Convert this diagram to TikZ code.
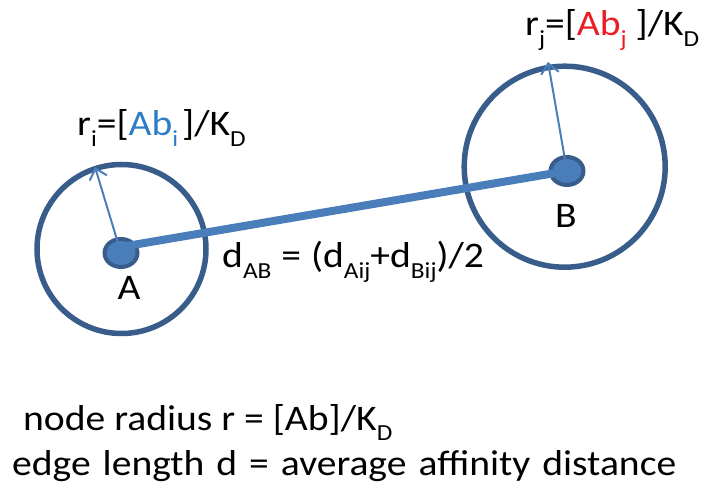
\documentclass[tikz,border=0pt]{standalone}
\usepackage{fontspec}
\setmainfont{Carlito}[FakeStretch=1.1]
\usetikzlibrary{arrows.meta,shapes.geometric}
\definecolor{ringblue}{RGB}{56,93,138}
\definecolor{fillblue}{RGB}{74,126,187}
\definecolor{txtblue}{RGB}{46,125,196}
\definecolor{txtred}{RGB}{232,30,37}
\newcommand{\subs}[1]{\raisebox{-0.3em}{\fontsize{23}{23}\selectfont #1}}
\begin{document}
\begin{tikzpicture}[x=1pt,y=-1pt,
  ring/.style={circle, draw=ringblue, line width=5.5pt, inner sep=0pt},
  core/.style={ellipse, draw=ringblue, fill=fillblue, line width=4pt, inner sep=0pt, minimum width=33pt, minimum height=28pt},
  link/.style={draw=fillblue, line width=8pt, line cap=round},
  radius/.style={draw=fillblue, line width=2pt, -{Straight Barb[length=10pt,width=18pt]}},
  lbl/.style={inner sep=0pt, font=\fontsize{36}{43}\selectfont}]
\useasboundingbox (0,0) rectangle (704,494);
% outer circles
\node[ring, minimum size=169pt] (ca) at (121.5,249) {};
\node[ring, minimum size=201pt] (cb) at (564.7,166.7) {};
% centres
\node[core] (a) at (121,253) {};
\node[core] (b) at (567,171) {};
% edge
\draw[link] ([yshift=6pt]a.center) -- (b.center);
% radius arrows
\coordinate (ta) at (95,167);
\coordinate (tb) at (548,62);
\draw[radius] (a.center) -- (ta);
\draw[radius] (b.center) -- (tb);
% labels
\node[lbl, anchor=base west] (ri) at (77,136) {r\subs{i}=[\textcolor{txtblue}{Ab\subs{i}}\hspace{4pt}]/K\subs{D}};
\node[lbl, anchor=base west] (rj) at (525,36) {r\subs{j}=[\textcolor{txtred}{Ab\subs{j}} ]/K\subs{D}};
\node[lbl, anchor=base] (la) at (129,300) {A};
\node[lbl, anchor=base] (lb) at (566,228) {B};
\node[lbl, anchor=base west] (dab) at (222,268) {\spaceskip=10pt plus 2pt d\subs{AB} = (d\subs{Aij}+d\subs{Bij})/2};
\node[lbl, anchor=base west] (n1) at (23,430) {node radius r = [Ab]/K\subs{D}};
\node[lbl, anchor=base west] (n2) at (12,475) {\spaceskip=12pt plus 2pt edge length d = average affinity distance};
\end{tikzpicture}
\end{document}
